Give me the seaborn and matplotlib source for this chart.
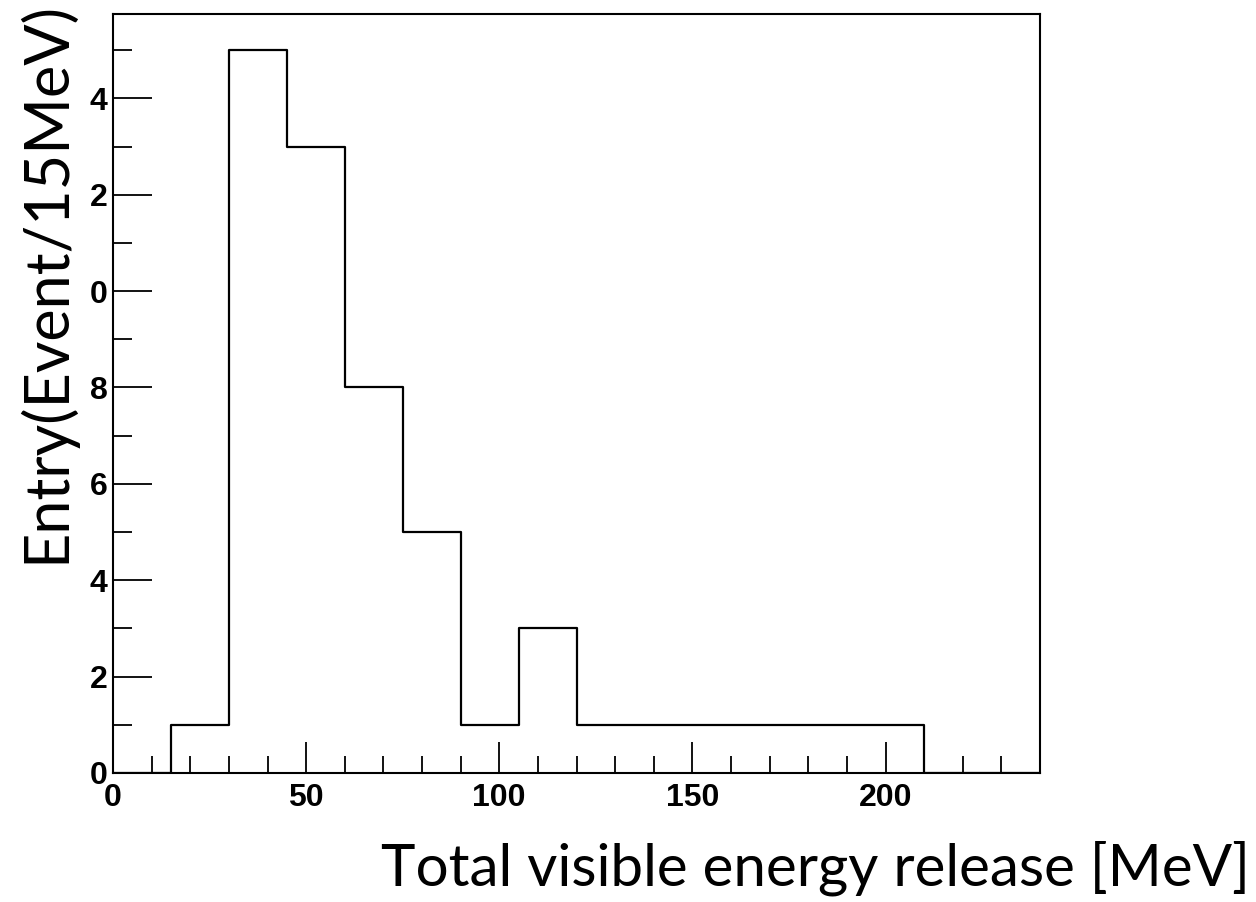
import numpy as np
import seaborn as sns
import matplotlib.pyplot as plt
from matplotlib.ticker import MultipleLocator

# histogram of total visible energy (15 MeV bins, 0-240 MeV)
bin_edges = list(range(0, 241, 15))
counts = [0, 1, 15, 13, 8, 5, 1, 3, 1, 1, 1, 1, 1, 1, 0, 0]
y_ticks = [0, 2, 4, 6, 8, 10, 12, 14]
y_tick_labels = ["0", "2", "4", "6", "8", "0", "2", "4"]  # leading digit cut off in the source
x_ticks = [0, 50, 100, 150, 200]

sns.set_style("white")
plt.rcParams["font.family"] = ["Liberation Sans", "DejaVu Sans"]
plt.rcParams["text.color"] = "black"
plt.rcParams["axes.labelcolor"] = "black"

fig = plt.figure(figsize=(12.56, 9.02), dpi=100)
ax = fig.add_axes([113 / 1256, 1 - 773 / 902, 927 / 1256, 759 / 902])

centers = [e + 7.5 for e in bin_edges[:-1]]
sns.histplot(x=centers, weights=counts, bins=bin_edges, element="step",
             fill=False, color="black", linewidth=1.6, ax=ax)

ax.set_xlim(0, 240)
ax.set_ylim(0, 15.75)

ax.set_xticks(x_ticks)
ax.set_xticklabels([str(t) for t in x_ticks])
ax.set_yticks(y_ticks)
ax.set_yticklabels(y_tick_labels)
ax.xaxis.set_minor_locator(MultipleLocator(10))
ax.yaxis.set_minor_locator(MultipleLocator(1))

ax.tick_params(axis="both", which="both", direction="in", color="black",
               labelcolor="black", width=1.3, labelsize=23,
               bottom=True, left=True, top=False, right=False)
ax.tick_params(axis="y", which="major", length=28, pad=4)
ax.tick_params(axis="y", which="minor", length=14)
ax.tick_params(axis="x", which="major", length=22, pad=7)
ax.tick_params(axis="x", which="minor", length=12)
for lab in ax.get_xticklabels() + ax.get_yticklabels():
    lab.set_fontweight("bold")

for side in ["top", "right", "left", "bottom"]:
    ax.spines[side].set_visible(True)
    ax.spines[side].set_color("black")
    ax.spines[side].set_linewidth(1.5)

ax.set_xlabel("Total visible energy release [MeV]", family=["Lato", "DejaVu Sans"],
              fontsize=42, ha="right", va="center", color="black")
ax.xaxis.set_label_coords(1.227, -0.125)
ax.set_ylabel("Entry(Event/15MeV)", family=["Lato", "DejaVu Sans"],
              fontsize=44, ha="center", va="center", color="black")
ax.yaxis.set_label_coords(-0.073, 0.6465)

fig.savefig("out.png", dpi=100, facecolor="white")
